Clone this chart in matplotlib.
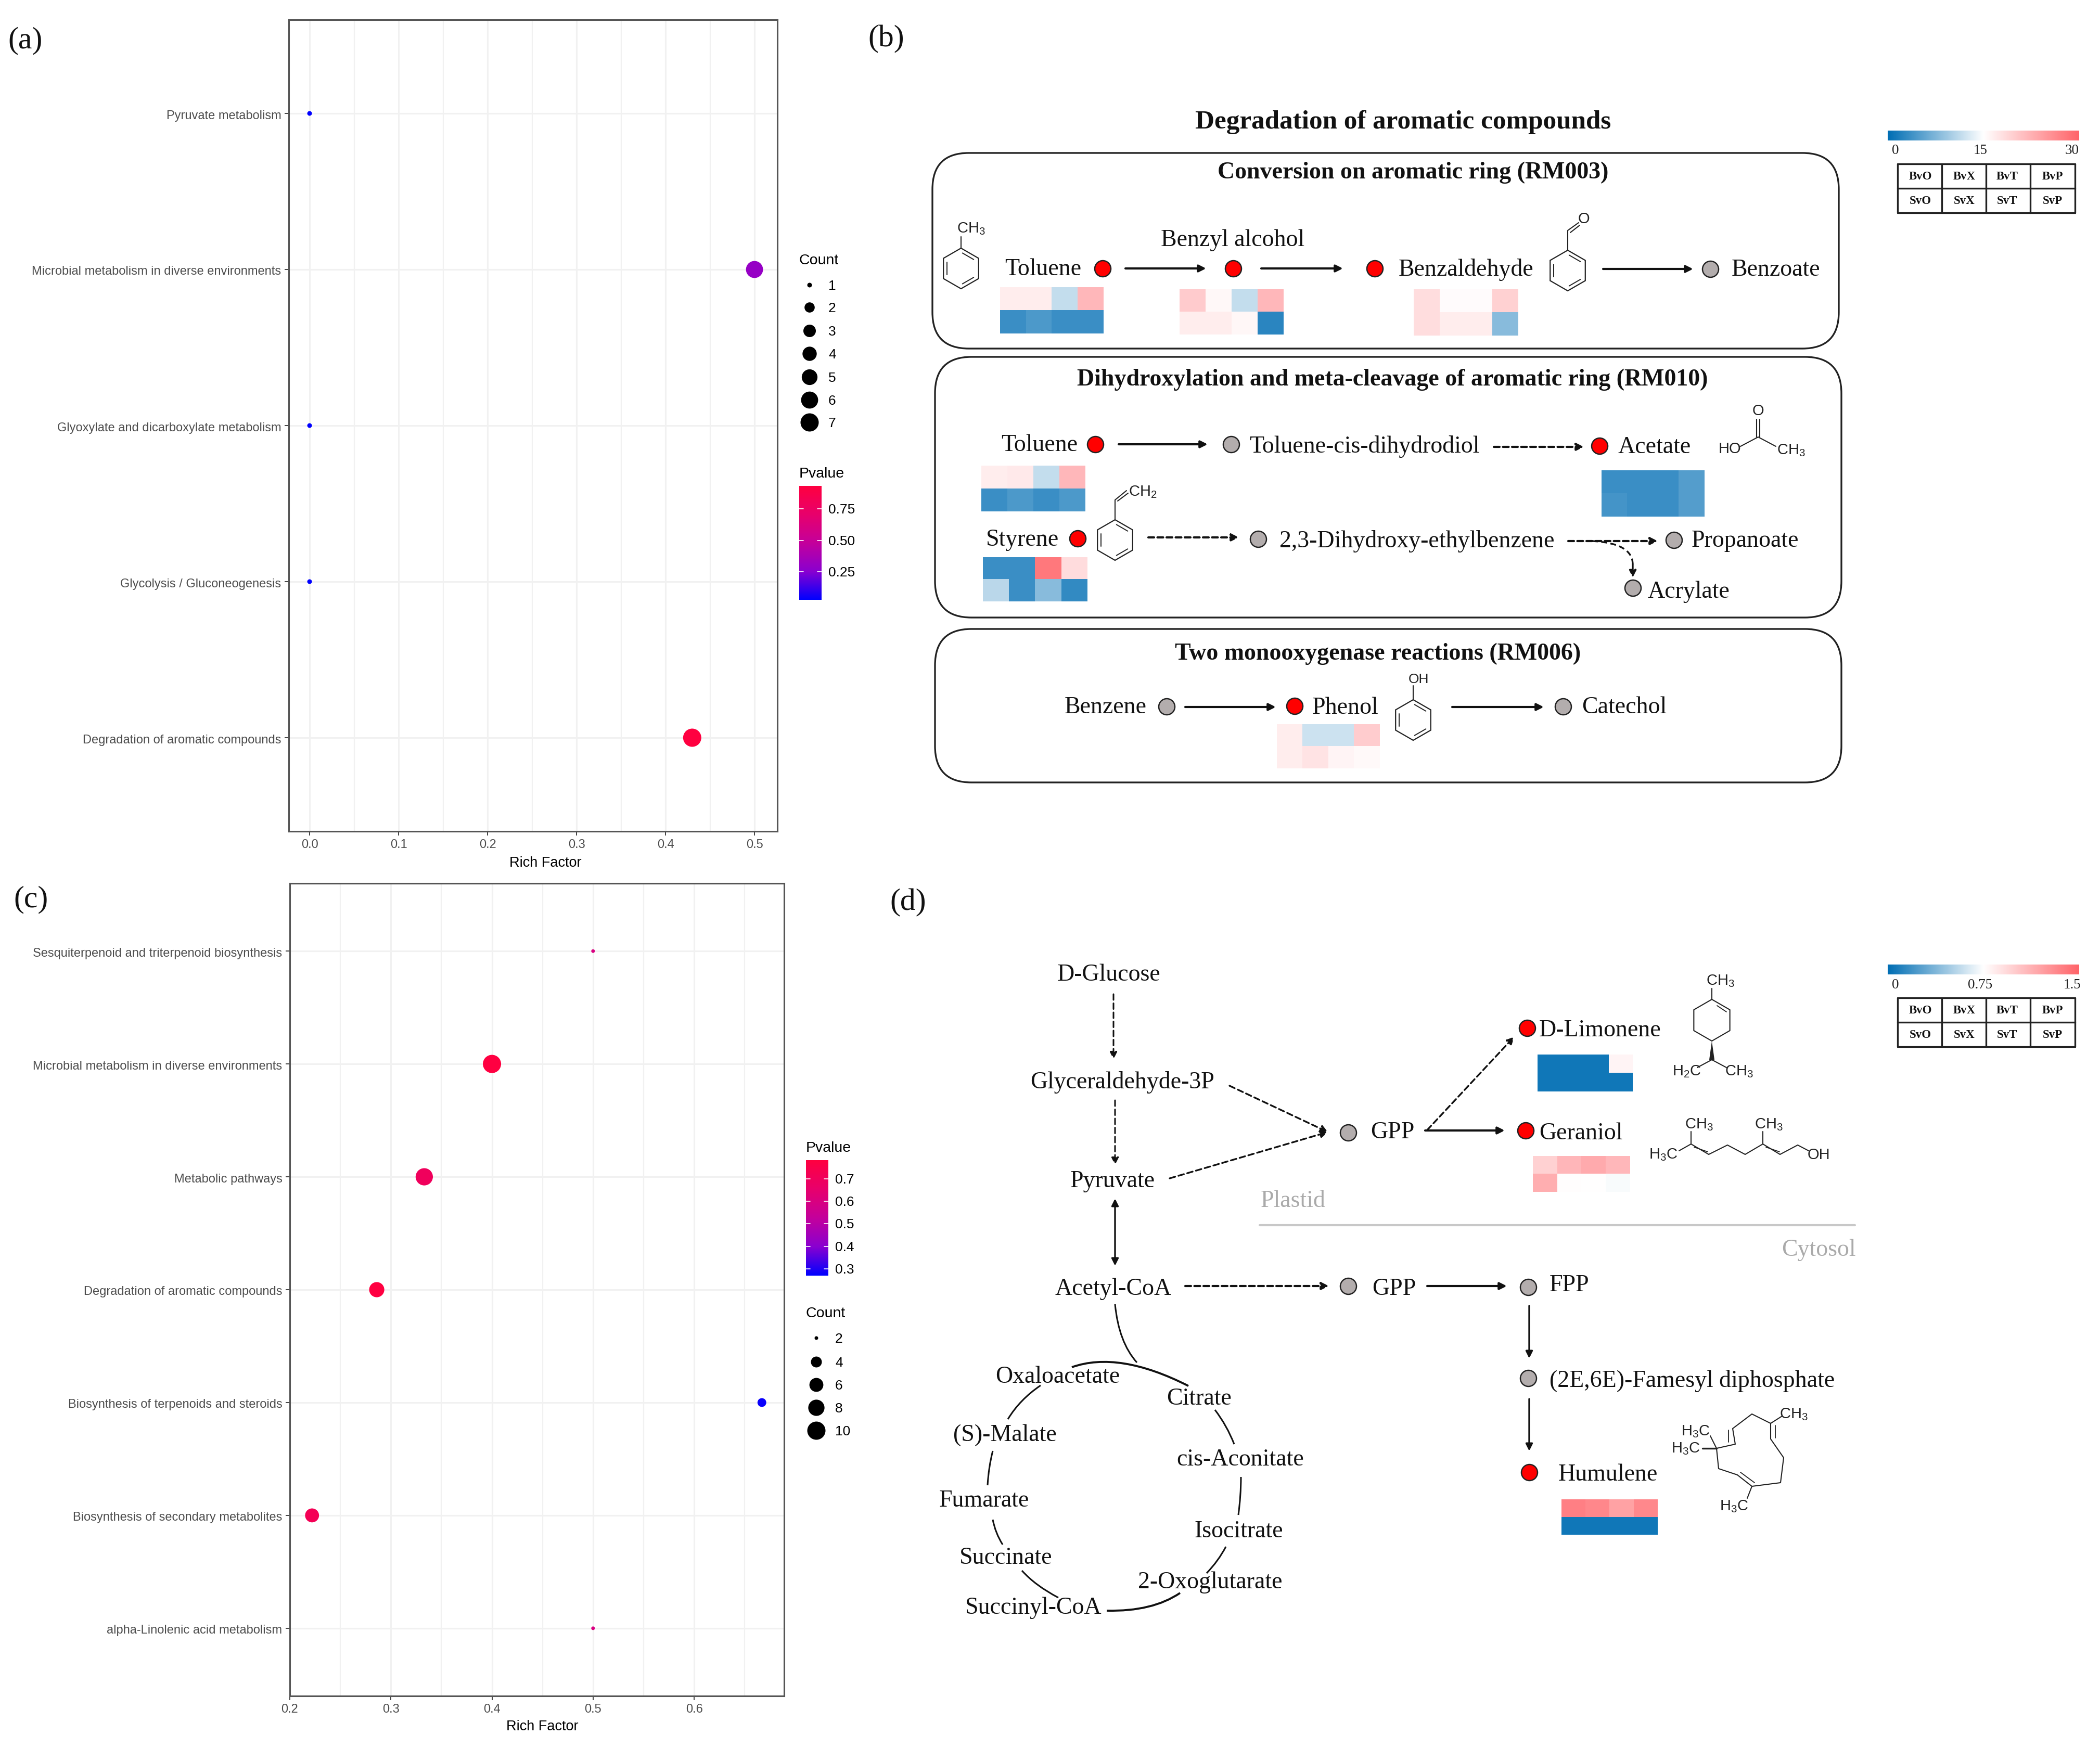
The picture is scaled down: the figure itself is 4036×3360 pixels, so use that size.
import matplotlib
matplotlib.use("Agg")
import matplotlib.pyplot as plt
import numpy as np
from matplotlib.colors import LinearSegmentedColormap, Normalize
from matplotlib.patches import FancyBboxPatch, PathPatch, Polygon
from matplotlib.path import Path
from matplotlib.transforms import ScaledTranslation

W, H = 4037, 3360

plt.rcParams["font.family"] = "Liberation Sans"
plt.rcParams["mathtext.fontset"] = "custom"
plt.rcParams["mathtext.rm"] = "Liberation Sans"
plt.rcParams["mathtext.default"] = "regular"

# panel (a)
a_terms = ["Pyruvate metabolism", "Microbial metabolism in diverse environments",
           "Glyoxylate and dicarboxylate metabolism", "Glycolysis / Gluconeogenesis",
           "Degradation of aromatic compounds"]
a_rich = [0.0, 0.5, 0.0, 0.0, 0.43]
a_count = [1, 6, 1, 1, 7]
a_pvalue = [0.03, 0.30, 0.03, 0.03, 0.93]
a_count_legend = [1, 2, 3, 4, 5, 6, 7]
a_p_ticks = [0.25, 0.50, 0.75]
a_p_range = (0.027, 0.932)

# panel (c)
c_terms = ["Sesquiterpenoid and triterpenoid biosynthesis", "Microbial metabolism in diverse environments",
           "Metabolic pathways", "Degradation of aromatic compounds",
           "Biosynthesis of terpenoids and steroids", "Biosynthesis of secondary metabolites",
           "alpha-Linolenic acid metabolism"]
c_rich = [0.5, 0.4, 0.333, 0.286, 0.667, 0.222, 0.5]
c_count = [2, 10, 9, 7, 3, 6, 2]
c_pvalue = [0.60, 0.78, 0.70, 0.78, 0.28, 0.72, 0.60]
c_count_legend = [2, 4, 6, 8, 10]
c_p_ticks = [0.3, 0.4, 0.5, 0.6, 0.7]
c_p_range = (0.27, 0.783)

# heatmap values, panel (b) scale 0-30
h_toluene_1 = [[16.7, 16.7, 11.5, 21.8], [3.5, 4.5, 3.5, 3.5]]
h_benzyl = [[20, 15.6, 11.5, 21.8], [16.7, 16.7, 15.8, 2.5]]
h_benzald = [[18.2, 15.3, 15.3, 19.4], [18.2, 16.7, 16.7, 8]]
h_toluene_2 = [[16.7, 17, 11.5, 21.8], [3.5, 4.5, 3.5, 4.5]]
h_acetate = [[3.5, 3.5, 3.5, 5], [4, 3.5, 3.5, 5]]
h_styrene = [[3.5, 3.5, 28, 18.3], [11, 3.5, 8, 3]]
h_phenol = [[16.7, 12, 12, 19.9], [16.7, 17.6, 16, 15.5]]

# heatmap values, panel (d) scale 0-1.5
h_limonene = [[0.05, 0.05, 0.05, 0.8], [0.05, 0.05, 0.05, 0.05]]
h_geraniol = [[0.97, 1.1, 1.16, 1.09], [1.14, 0.76, 0.75, 0.73]]
h_humulene = [[1.36, 1.33, 1.2, 1.32], [0.05, 0.05, 0.05, 0.05]]

table_top = ["BvO", "BvX", "BvT", "BvP"]
table_bottom = ["SvO", "SvX", "SvT", "SvP"]

p_cmap = LinearSegmentedColormap.from_list("p", ["#0000FF", "#8A00D0", "#C4009C", "#E8006C", "#FF0040"])
heat_cmap = LinearSegmentedColormap.from_list("heat", ["#006EB4", "#FFFFFF", "#FF6469"])

fig = plt.figure(figsize=(W / 100, H / 100), dpi=100, facecolor="white")


def px_axes(left, top, right, bottom, **kw):
    return fig.add_axes([left / W, 1 - bottom / H, (right - left) / W, (bottom - top) / H], **kw)


def dot_area(count, cmin, cmax, dmin, dmax):
    d = dmin + (dmax - dmin) * np.sqrt((np.asarray(count, float) - cmin) / (cmax - cmin))
    return (d * 0.72) ** 2


def dot_panel(box, terms, rich, count, pvalue, p_range, xlim, xticks, xminor, dsize):
    ax = px_axes(*box)
    ax.set_axisbelow(True)
    ypos = np.arange(len(terms))
    ax.set_xlim(*xlim)
    ax.set_ylim(len(terms) - 0.4, -0.6)
    ax.set_yticks(ypos, terms)
    ax.set_xticks(xticks, [f"{t:.1f}" for t in xticks])
    ax.set_xticks(xminor, minor=True)
    ax.grid(True, which="major", color="#F1F1F1", lw=2.2)
    ax.grid(True, which="minor", axis="x", color="#F1F1F1", lw=1.6)
    ax.tick_params(which="minor", length=0)
    ax.tick_params(which="major", length=5.5, width=1.3, color="#333333", labelcolor="#4D4D4D",
                   labelsize=17, pad=5)
    # labels sit a touch below the tick in the original
    down = ScaledTranslation(0, -2 / 100, fig.dpi_scale_trans)
    for t in ax.get_yticklabels():
        t.set_transform(t.get_transform() + down)
    for s in ax.spines.values():
        s.set_color("#555555")
        s.set_linewidth(2.2)
    ax.scatter(rich, ypos, s=dot_area(count, min(count), max(count), *dsize), c=pvalue, cmap=p_cmap,
               norm=Normalize(*p_range), linewidths=0, zorder=3, clip_on=False)
    return ax


dot_panel((555, 38, 1494, 1598), a_terms, a_rich, a_count, a_pvalue, a_p_range, (-0.0234, 0.5257),
          [0, 0.1, 0.2, 0.3, 0.4, 0.5], [0.05, 0.15, 0.25, 0.35, 0.45], (9, 35))
dot_panel((557, 1698, 1507, 3260), c_terms, c_rich, c_count, c_pvalue, c_p_range, (0.2, 0.689),
          [0.2, 0.3, 0.4, 0.5, 0.6], [0.25, 0.35, 0.45, 0.55, 0.65], (7, 35))

# everything else sits on a full-figure axes in pixel units
ov = fig.add_axes([0, 0, 1, 1], facecolor="none")
ov.axis("off")


def serif(x, y, s, size=33, **kw):
    kw.setdefault("ha", "center")
    kw.setdefault("va", "center")
    kw.setdefault("color", "#111111")
    ov.text(x, y + 3, s, fontsize=size, family="Liberation Serif", **kw)


def sans(x, y, s, size=19, **kw):
    kw.setdefault("ha", "left")
    kw.setdefault("va", "center")
    ov.text(x, y + 2, s, fontsize=size, family="Liberation Sans", **kw)


def chem(x, y, s, size=21):
    ov.text(x, y, s, fontsize=size, family="Liberation Sans", ha="center", va="center", color="#222222")


def seg(pts, lw=1.5, color="#222222", **kw):
    pts = np.array(pts)
    ov.plot(pts[:, 0], pts[:, 1], color=color, lw=lw, solid_capstyle="round", **kw)


def arrow(x0, y0, x1, y1, dashed=False, lw=3.0, style="-|>", scale=20):
    ls = (0, (11 * 0.72 / lw, 6.5 * 0.72 / lw)) if dashed else "-"
    ov.annotate("", xy=(x1, y1), xytext=(x0, y0),
                arrowprops=dict(arrowstyle=style, lw=lw, color="#111111", mutation_scale=scale,
                                shrinkA=0, shrinkB=0, linestyle=ls))


def curve(p0, c, p1, lw=2.2):
    ov.add_patch(PathPatch(Path([p0, c, p1], [Path.MOVETO, Path.CURVE3, Path.CURVE3]), fc="none",
                           ec="#111111", lw=lw))


def node(x, y, red=True):
    ov.scatter([x], [y], s=(31 * 0.72) ** 2, c="#FF0000" if red else "#B3ADAD",
               edgecolors="#222222", linewidths=1.8, zorder=4)


def heat(x0, y0, x1, y1, values, vmax=30):
    ov.imshow(values, cmap=heat_cmap, vmin=0, vmax=vmax, extent=(x0, x1, y1, y0), aspect="auto",
              interpolation="nearest", zorder=2)


def ring(cx, cy, r=39):
    ang = np.deg2rad(90 + 60 * np.arange(6))
    xs, ys = cx + r * np.cos(ang), cy - r * np.sin(ang)
    ov.add_patch(Polygon(np.c_[xs, ys], closed=True, fc="none", ec="#222222", lw=1.6))
    for i in (5, 1, 3):
        j = (i + 1) % 6
        a = np.array([xs[i], ys[i]])
        b = np.array([xs[j], ys[j]])
        mid = (a + b) / 2
        inner_a = a + (b - a) * 0.18 + (np.array([cx, cy]) - mid) * 0.2
        inner_b = b + (a - b) * 0.18 + (np.array([cx, cy]) - mid) * 0.2
        seg([inner_a, inner_b], lw=1.4)


def scale_legend(top, labels):
    ov.imshow(np.linspace(0, 1, 256)[None, :], cmap=heat_cmap, extent=(3628, 3996, top + 19, top),
              aspect="auto", zorder=2)
    for x, s in zip((3643, 3806, 3982), labels):
        serif(x, top + 36, s, size=19.5, color="#222222")
    t0, t1 = top + 64, top + 158
    tm = (t0 + t1) / 2
    for y in (t0, tm, t1):
        seg([(3647, y), (3988, y)], lw=2.4)
    for x in (3647, 3732, 3817, 3902, 3988):
        seg([(x, t0), (x, t1)], lw=2.4)
    for x, s, u in zip((3691, 3775, 3858, 3945), table_top, table_bottom):
        serif(x, (t0 + tm) / 2 - 2, s, size=16.5, weight="bold")
        serif(x, (tm + t1) / 2 - 2, u, size=16.5, weight="bold")


def gg_legend(x, title_y, bar_box, p_range, p_ticks, tick_fmt, count_title_y, count_ys, counts, dsize):
    left, top, right, bottom = bar_box
    # both titles and colour bar
    sans(x, title_y, "Pvalue", size=20.5)
    ov.imshow(np.linspace(1, 0, 256)[:, None], cmap=p_cmap, extent=(left, right, bottom, top), aspect="auto", zorder=2)
    span = (bottom - top) / (p_range[1] - p_range[0])
    for v in p_ticks:
        y = bottom - (v - p_range[0]) * span
        seg([(left, y), (left + 8, y)], lw=1.2, color="white")
        seg([(right - 8, y), (right, y)], lw=1.2, color="white")
        sans(right + 13, y, tick_fmt.format(v), size=19)
    sans(x, count_title_y, "Count", size=20.5)
    ov.scatter([left + 20] * len(counts), count_ys, s=dot_area(counts, min(counts), max(counts), *dsize),
               c="black", linewidths=0, zorder=3)
    for y, n in zip(count_ys, counts):
        sans(right + 13, y, str(n), size=19)


gg_legend(1536, 909, (1536, 934, 1579, 1153), a_p_range, a_p_ticks, "{:.2f}", 499,
          [548, 591, 636, 680, 725, 769, 812], a_count_legend, (9, 35))
gg_legend(1549, 2205, (1549, 2230, 1592, 2452), c_p_range, c_p_ticks, "{:.1f}", 2523,
          [2572, 2618, 2662, 2706, 2750], c_count_legend, (7, 35))

ov.text(1048, 1659, "Rich Factor", fontsize=19.5, ha="center", va="center")
ov.text(1042, 3319, "Rich Factor", fontsize=19.5, ha="center", va="center")

for x, y, s in [(49, 75, "(a)"), (1703, 72, "(b)"), (60, 1726, "(c)"), (1745, 1732, "(d)")]:
    serif(x, y, s, size=43)

# panel (b)
serif(2697, 232, "Degradation of aromatic compounds", size=36.8, weight="bold")
for x0, y0, x1, y1 in [(1792, 294, 3534, 670), (1797, 686, 3539, 1187), (1797, 1209, 3539, 1504)]:
    ov.add_patch(FancyBboxPatch((x0, y0), x1 - x0, y1 - y0, boxstyle="round,pad=0,rounding_size=70",
                                fc="none", ec="#222222", lw=2.4))
serif(2716, 329, "Conversion on aromatic ring (RM003)", weight="bold")
serif(2676, 727, "Dihydroxylation and meta-cleavage of aromatic ring (RM010)", weight="bold")
serif(2648, 1254, "Two monooxygenase reactions (RM006)", weight="bold")

# RM003
ring(1847, 516)
seg([(1847, 477), (1847, 455)])
chem(1866, 440, "CH$_3$")
serif(2005, 515, "Toluene")
node(2119, 516)
arrow(2163, 516, 2318, 516)
node(2370, 516)
serif(2369, 459, "Benzyl alcohol")
arrow(2424, 516, 2581, 516)
node(2642, 516)
serif(2818, 516, "Benzaldehyde")
ring(3013, 520)
seg([(3013, 481), (3013, 443), (3034, 428)])
seg([(3018, 447), (3036, 433)])
chem(3044, 421, "O")
arrow(3081, 517, 3254, 517)
node(3287, 517, red=False)
serif(3413, 516, "Benzoate")
heat(1922, 552, 2121, 641, h_toluene_1)
heat(2267, 556, 2467, 643, h_benzyl)
heat(2717, 556, 2918, 645, h_benzald)

# RM010
serif(1998, 853, "Toluene")
node(2105, 854)
arrow(2150, 854, 2321, 854)
node(2366, 854, red=False)
serif(2622, 856, "Toluene-cis-dihydrodiol")
arrow(2871, 859, 3044, 859, dashed=True)
node(3074, 857)
serif(3180, 857, "Acetate")
seg([(3345, 858), (3379, 840), (3413, 858)])
seg([(3376, 840), (3376, 806)])
seg([(3382, 840), (3382, 806)])
chem(3379, 790, "O")
chem(3324, 863, "HO")
chem(3442, 866, "CH$_3$")
heat(1886, 895, 2086, 983, h_toluene_2)
heat(3078, 904, 3276, 993, h_acetate)

serif(1965, 1035, "Styrene")
node(2071, 1035)
ring(2143, 1038)
seg([(2143, 999), (2143, 961), (2165, 943)])
seg([(2148, 963), (2168, 948)])
chem(2196, 946, "CH$_2$")
arrow(2207, 1033, 2381, 1033, dashed=True)
node(2418, 1036, red=False)
serif(2723, 1037, "2,3-Dihydroxy-ethylbenzene")
arrow(3014, 1040, 3186, 1040, dashed=True)
node(3217, 1038, red=False)
serif(3354, 1037, "Propanoate")
ov.add_patch(PathPatch(Path([(3060, 1040), (3138, 1044), (3138, 1085)], [Path.MOVETO, Path.CURVE3, Path.CURVE3]),
                       fc="none", ec="#111111", lw=2.4, ls=(0, (3.3, 2))))
arrow(3138, 1085, 3138, 1110, dashed=True, lw=2.4)
node(3138, 1130, red=False)
serif(3245, 1135, "Acrylate")
heat(1889, 1071, 2090, 1156, h_styrene)

# RM006
serif(2125, 1357, "Benzene")
node(2242, 1358, red=False)
arrow(2278, 1359, 2452, 1359)
node(2488, 1357)
serif(2586, 1358, "Phenol")
ring(2716, 1384)
seg([(2716, 1345), (2716, 1318)])
chem(2727, 1306, "OH", size=19)
arrow(2791, 1359, 2967, 1359)
node(3004, 1358, red=False)
serif(3122, 1357, "Catechol")
heat(2454, 1392, 2652, 1477, h_phenol)

scale_legend(251, ("0", "15", "30"))

# panel (d)
serif(2131, 1871, "D-Glucose")
arrow(2140, 1911, 2140, 2036, dashed=True, lw=2.2)
serif(2157, 2078, "Glyceraldehyde-3P")
arrow(2143, 2115, 2143, 2239, dashed=True, lw=2.2)
serif(2138, 2268, "Pyruvate")
arrow(2143, 2304, 2143, 2433, lw=2.4, style="<|-|>")
serif(2140, 2475, "Acetyl-CoA")
arrow(2363, 2087, 2552, 2176, dashed=True, lw=2.4)
arrow(2248, 2265, 2552, 2176, dashed=True, lw=2.4)
node(2591, 2177, red=False)
serif(2676, 2174, "GPP")
arrow(2739, 2173, 2892, 2173)
node(2932, 2173)
serif(3038, 2176, "Geraniol")
arrow(2743, 2172, 2910, 1993, dashed=True, lw=2.4)
node(2935, 1976)
serif(3075, 1978, "D-Limonene")
heat(2955, 2027, 3138, 2098, h_limonene, vmax=1.5)
heat(2946, 2222, 3133, 2291, h_geraniol, vmax=1.5)
serif(2485, 2306, "Plastid", color="#AAAAAA")
seg([(2421, 2355), (3565, 2355)], lw=3, color="#C8C8C8")
serif(3495, 2400, "Cytosol", color="#AAAAAA")

arrow(2278, 2472, 2554, 2472, dashed=True)
node(2591, 2472, red=False)
serif(2679, 2475, "GPP")
arrow(2743, 2472, 2896, 2472)
node(2937, 2474, red=False)
serif(3016, 2468, "FPP")
arrow(2939, 2510, 2939, 2611, lw=2.4)
node(2937, 2649, red=False)
serif(3252, 2651, "(2E,6E)-Famesyl diphosphate")
arrow(2939, 2689, 2939, 2789, lw=2.4)
node(2939, 2830)
serif(3090, 2832, "Humulene")
heat(3001, 2882, 3186, 2950, h_humulene, vmax=1.5)

# TCA cycle
for x, y, s in [(2033, 2644, "Oxaloacetate"), (2305, 2686, "Citrate"), (1931, 2756, "(S)-Malate"),
                (2384, 2803, "cis-Aconitate"), (1891, 2882, "Fumarate"), (2381, 2941, "Isocitrate"),
                (1933, 2992, "Succinate"), (2326, 3039, "2-Oxoglutarate"), (1986, 3088, "Succinyl-CoA")]:
    serif(x, y, s)
curve((2143, 2507), (2150, 2580), (2185, 2619))
curve((2060, 2628), (2150, 2596), (2284, 2664), lw=2.8)
curve((2000, 2663), (1960, 2690), (1937, 2728))
curve((1908, 2789), (1900, 2820), (1898, 2855))
curve((1908, 2921), (1913, 2947), (1927, 2969))
curve((1964, 3019), (1990, 3048), (2034, 3071))
curve((2127, 3096), (2215, 3098), (2268, 3062), lw=2.8)
curve((2319, 3024), (2342, 3000), (2356, 2973))
curve((2380, 2912), (2385, 2875), (2385, 2839))
curve((2372, 2776), (2358, 2740), (2335, 2710))

# limonene
ang = np.deg2rad(90 + 60 * np.arange(7))
seg(np.c_[3290 + 40 * np.cos(ang), 1961 - 40 * np.sin(ang)])
seg([(3290, 1921), (3290, 1900)])
seg([(3300, 1933), (3318, 1945)], lw=1.3)
chem(3306, 1886, "CH$_3$")
ov.add_patch(Polygon([(3290, 2001), (3285, 2037), (3295, 2037)], closed=True, fc="#222222", ec="none"))
seg([(3262, 2052), (3290, 2037), (3318, 2052)])
chem(3242, 2060, "H$_2$C")
chem(3342, 2060, "CH$_3$")

# geraniol
gx = [3227, 3250, 3284, 3320, 3354, 3388, 3421, 3455, 3476]
gy = [2212, 2199, 2219, 2201, 2219, 2199, 2219, 2201, 2212]
seg(np.c_[gx, gy])
seg([(3250, 2199), (3250, 2175)])
seg([(3388, 2199), (3388, 2175)])
seg([(3256, 2205), (3282, 2214)], lw=1.3)
seg([(3394, 2205), (3420, 2214)], lw=1.3)
chem(3265, 2162, "CH$_3$")
chem(3399, 2162, "CH$_3$")
chem(3197, 2220, "H$_3$C")
chem(3495, 2220, "OH")

# humulene
hx = [3299, 3335, 3330, 3367, 3403, 3403, 3428, 3422, 3367, 3339, 3303, 3299]
hy = [2784, 2776, 2746, 2718, 2736, 2766, 2802, 2850, 2857, 2835, 2823, 2784]
seg(np.c_[hx, hy])
seg([(3299, 2784), (3287, 2760)])
seg([(3299, 2784), (3272, 2784)], lw=2.4)
seg([(3403, 2736), (3425, 2722)])
seg([(3367, 2857), (3358, 2880)])
seg([(3412, 2740), (3412, 2764)], lw=1.3)
seg([(3322, 2749), (3322, 2772)], lw=1.3)
seg([(3345, 2830), (3372, 2850)], lw=1.3)
chem(3259, 2752, "H$_3$C")
chem(3240, 2785, "H$_3$C")
chem(3447, 2719, "CH$_3$")
chem(3333, 2896, "H$_3$C")

scale_legend(1854, ("0", "0.75", "1.5"))

ov.set_xlim(0, W)
ov.set_ylim(H, 0)

fig.savefig("out.png", dpi=100)
